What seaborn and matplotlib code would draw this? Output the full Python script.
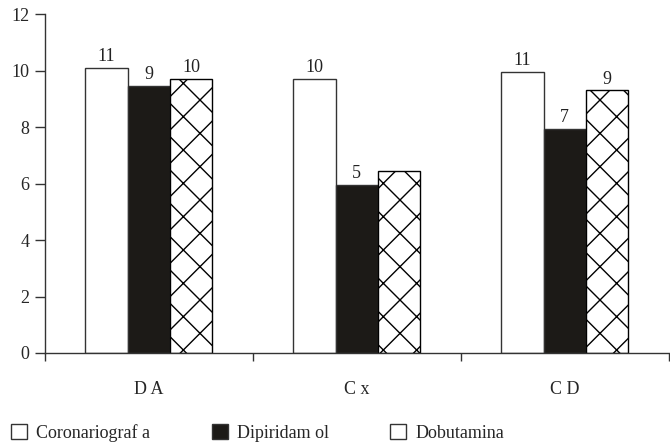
import matplotlib
matplotlib.use("Agg")
import matplotlib.pyplot as plt
import seaborn as sns
import pandas as pd
from matplotlib.patches import Patch

categories = ["DA", "Cx", "CD"]
series = ["Coronariograf a", "Dipiridam ol", "Dobutamina"]
coronariografia = [10.1, 9.7, 9.95]
dipiridamol = [9.45, 5.95, 7.95]
dobutamina = [9.7, 6.45, 9.3]
labels_coronariografia = ["11", "10", "11"]
labels_dipiridamol = ["9", "5", "7"]
labels_dobutamina = ["10", "", "9"]
yticks = [0, 2, 4, 6, 8, 10, 12]

sns.set_theme(style="white")
plt.rcParams["font.family"] = ["Liberation Serif", "DejaVu Serif"]
plt.rcParams["hatch.linewidth"] = 1.0

rows = []
for s, vals in zip(series, [coronariografia, dipiridamol, dobutamina]):
    for c, v in zip(categories, vals):
        rows.append({"cat": c, "serie": s, "val": v})
df = pd.DataFrame(rows)

fig = plt.figure(figsize=(6.7, 4.44), dpi=100)
ax = fig.add_axes([0.067, 0.205, 0.931, 0.763])

colors = ["white", "#1c1a17", "white"]
sns.barplot(data=df, x="cat", y="val", hue="serie", order=categories,
            hue_order=series, palette=colors, width=0.61, ax=ax,
            edgecolor="#333333", linewidth=1.0, legend=False, errorbar=None,
            saturation=1)

for bar in ax.containers[2]:
    bar.set_hatch("x")
    bar.set_edgecolor("black")

all_labels = [labels_coronariografia, labels_dipiridamol, labels_dobutamina]
for cont, labs in zip(ax.containers, all_labels):
    ax.bar_label(cont, labels=labs, padding=2, fontsize=13, color="#222222")

ax.set_ylim(0, 12)
ax.set_xlim(-0.5, 2.5)
ax.set_yticks(yticks)
ax.set_yticklabels([str(t) for t in yticks], fontsize=13)
ax.set_xticks([-0.5, 0.5, 1.5, 2.5])
ax.set_xticklabels([])
ax.set_xticks([0, 1, 2], minor=True)
ax.set_xticklabels(["D A", "C x", "C D"], minor=True, fontsize=13)
ax.tick_params(axis="x", which="minor", length=0, pad=20)
ax.tick_params(axis="x", which="major", direction="out", length=6, width=1, color="#333333", bottom=True)
ax.tick_params(axis="y", direction="out", length=7, width=1, color="#333333", left=True, pad=4)
ax.set_xlabel("")
ax.set_ylabel("")
for side in ["top", "right"]:
    ax.spines[side].set_visible(False)
for side in ["left", "bottom"]:
    ax.spines[side].set_color("#333333")
    ax.spines[side].set_linewidth(1.0)

handles = [Patch(facecolor="white", edgecolor="#333333", label=series[0]),
           Patch(facecolor="#1c1a17", edgecolor="#333333", label=series[1]),
           Patch(facecolor="white", edgecolor="#333333", hatch=":", label=series[2])]
fig.legend(handles=handles, loc="lower left", bbox_to_anchor=(0.0, -0.02),
           ncol=3, frameon=False, fontsize=13, handlelength=0.9, handleheight=0.9,
           columnspacing=3.4, handletextpad=0.5, borderpad=0.3, borderaxespad=0.3)

fig.savefig("out.png", dpi=100)
